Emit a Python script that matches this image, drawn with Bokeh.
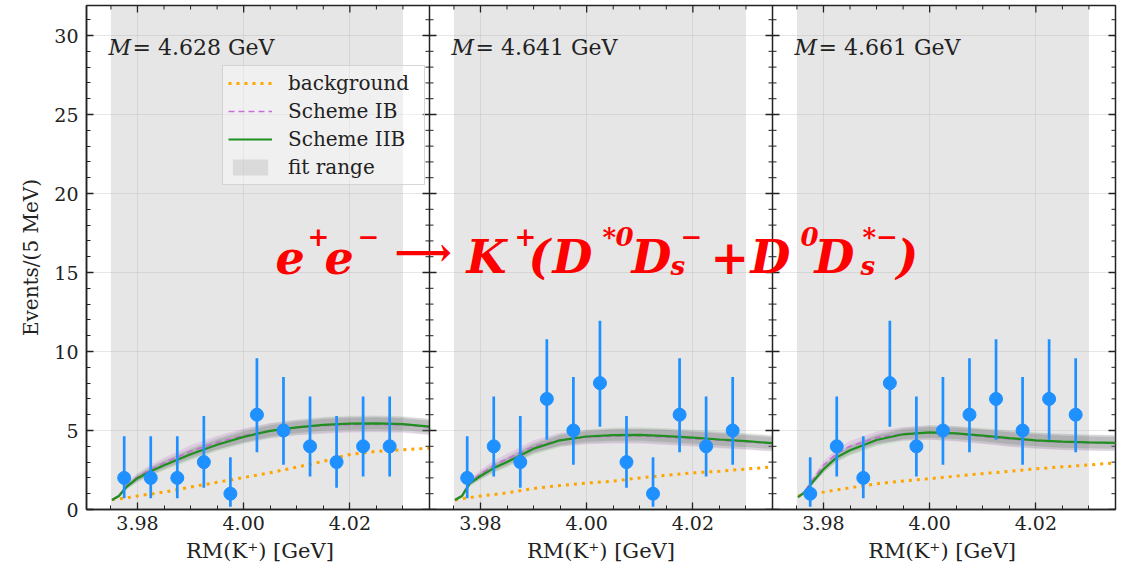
import math
from bokeh.plotting import figure
from bokeh.models import (Range1d, FixedTicker, CustomJSTickFormatter,
                          Span, Label, Legend, LegendItem)
from bokeh.embed import file_html
from bokeh.resources import INLINE

# ---------------- data ----------------
MASSES = ["4.628", "4.641", "4.661"]
BIN_X = [3.9775, 3.9825, 3.9875, 3.9925, 3.9975, 4.0025, 4.0075, 4.0125, 4.0175, 4.0225, 4.0275]
COUNTS_1 = [2, 2, 2, 3, 1, 6, 5, 4, 3, 4, 4]
COUNTS_2 = [2, 4, 3, 7, 5, 8, 3, 1, 6, 4, 5]
COUNTS_3 = [1, 4, 2, 8, 4, 5, 6, 7, 5, 7, 6]
POIS_LO = {1: 0.83, 2: 1.29, 3: 1.63, 4: 1.91, 5: 2.16, 6: 2.38, 7: 2.58, 8: 2.77}
POIS_HI = {1: 2.30, 2: 2.64, 3: 2.92, 4: 3.16, 5: 3.38, 6: 3.58, 7: 3.77, 8: 3.94}

CURVE_X = [3.9752, 3.9765, 3.978, 3.98, 3.9825, 3.985, 3.99, 3.995, 4.0, 4.005,
           4.01, 4.015, 4.02, 4.025, 4.03, 4.035]
IIB_1 = [0.60, 0.85, 1.45, 1.98, 2.42, 2.80, 3.50, 4.10, 4.60, 4.98, 5.20, 5.36, 5.43, 5.45, 5.40, 5.25]
IB_1 = [0.60, 0.88, 1.52, 2.05, 2.55, 2.95, 3.68, 4.25, 4.68, 5.00, 5.18, 5.30, 5.37, 5.39, 5.35, 5.22]
BKG_1 = [0.62, 0.67, 0.74, 0.86, 0.98, 1.10, 1.42, 1.72, 2.02, 2.33, 2.68, 3.05, 3.48, 3.68, 3.78, 3.88]
IIB_2 = [0.60, 0.85, 1.65, 2.12, 2.62, 3.00, 3.85, 4.38, 4.62, 4.71, 4.72, 4.65, 4.55, 4.43, 4.33, 4.20]
IB_2 = [0.60, 0.88, 1.75, 2.25, 2.80, 3.20, 4.00, 4.42, 4.58, 4.64, 4.65, 4.58, 4.48, 4.38, 4.28, 4.17]
BKG_2 = [0.60, 0.68, 0.76, 0.85, 0.95, 1.05, 1.33, 1.52, 1.67, 1.80, 2.00, 2.16, 2.32, 2.42, 2.56, 2.69]
IIB_3 = [0.78, 1.10, 1.75, 2.55, 3.30, 3.75, 4.40, 4.76, 4.88, 4.82, 4.68, 4.52, 4.38, 4.29, 4.25, 4.22]
IB_3 = [0.78, 1.15, 1.90, 2.80, 3.55, 4.00, 4.55, 4.80, 4.86, 4.78, 4.62, 4.47, 4.34, 4.26, 4.22, 4.20]
BKG_3 = [0.85, 0.92, 1.00, 1.10, 1.24, 1.37, 1.63, 1.80, 1.95, 2.11, 2.27, 2.42, 2.58, 2.70, 2.82, 2.95]
BAND_HW = [0.05, 0.10, 0.18, 0.25, 0.30, 0.33, 0.38, 0.42, 0.45, 0.47, 0.48, 0.50, 0.50, 0.50, 0.50, 0.50]

FIT_LO, FIT_HI = 3.975, 4.030
X_LO, X_HI = 3.9704, 4.0350
Y_MAX = 31.9
X_MAJOR = [3.98, 4.00, 4.02]
X_MINOR = [3.975, 3.985, 3.99, 3.995, 4.005, 4.01, 4.015, 4.025, 4.03]
Y_MAJOR = [0, 5, 10, 15, 20, 25, 30]
Y_MINOR = list(range(0, 32))
X_LABEL = "RM(K\u207a) [GeV]"

PANELS = [(COUNTS_1, IIB_1, IB_1, BKG_1), (COUNTS_2, IIB_2, IB_2, BKG_2), (COUNTS_3, IIB_3, IB_3, BKG_3)]

# red formula e+e- -> K+(D*0 Ds- + D0 Ds*-): (text, kind)  b = base, p = superscript, s = subscript, a = arrow
FORMULA = [("e", "b"), ("+", "p"), ("e", "b"), ("\u2212", "p"), ("\u27f6", "a"), ("K", "b"), ("+", "p"),
           ("(", "b"), ("D", "b"), ("*", "p"), ("0", "p"), ("D", "b"), ("s", "s"), ("\u2212", "p"),
           ("+", "b"), ("D", "b"), ("0", "p"), ("D", "b"), ("s", "s"), ("*\u2212", "p"), (")", "b")]
FORMULA_X = [189, 221, 238, 271, 308, 380, 428, 442, 466, 516, 529, 545, 584, 594,
             624, 664, 714, 728, 774, 776, 810]

BLUE = "#1e90ff"
GREEN = "#1f8f1f"
PURPLE = "#c86ed8"
ORANGE = "#ffa500"
DARK = "#222222"
SERIF = "DejaVu Serif"

W = X_HI - X_LO
NP = len(PANELS)


def to_panel(i, v):
    return i + (v - X_LO) / W


p = figure(width=1127, height=567, x_range=Range1d(0, NP), y_range=Range1d(0, Y_MAX),
           output_backend="svg", toolbar_location=None,
           min_border_left=86, min_border_right=12, min_border_top=5, min_border_bottom=58)
p.extra_x_ranges = {f"p{i}": Range1d(X_LO - i * W, X_LO + (NP - i) * W) for i in range(NP)}
p.outline_line_color = DARK
p.outline_line_width = 1.5
p.background_fill_color = "white"

xt_major = [to_panel(i, t) for i in range(NP) for t in X_MAJOR]
xt_minor = [to_panel(i, t) for i in range(NP) for t in X_MINOR]
xt = FixedTicker(ticks=xt_major, minor_ticks=xt_minor)
yt = FixedTicker(ticks=Y_MAJOR, minor_ticks=Y_MINOR)
fmt = CustomJSTickFormatter(args=dict(lo=X_LO, w=W),
                            code="const i = Math.floor(tick); return (lo + (tick - i) * w).toFixed(2);")


def style_axis(ax):
    ax.major_tick_in = 7
    ax.major_tick_out = 0
    ax.minor_tick_in = 4
    ax.minor_tick_out = 0
    ax.axis_line_color = DARK
    ax.axis_line_width = 1.5
    ax.major_tick_line_color = DARK
    ax.minor_tick_line_color = DARK
    ax.major_tick_line_width = 1.3
    ax.minor_tick_line_width = 1.0
    ax.major_label_text_font = SERIF
    ax.major_label_text_font_size = "19px"
    ax.major_label_text_color = "#222222"
    ax.axis_label_text_font = SERIF
    ax.axis_label_text_font_style = "normal"
    ax.axis_label_text_color = "#222222"


xa = p.xaxis[0]
xa.ticker = xt
xa.formatter = fmt
style_axis(xa)
xa.major_label_standoff = 6
# one label under each panel (three copies spaced one panel width apart)
GAP = "\u2003" * 9 + "\u2009"
xa.axis_label = X_LABEL + GAP + X_LABEL + GAP + X_LABEL
xa.axis_label_text_font_size = "21px"
xa.axis_label_standoff = 6

ya = p.yaxis[0]
ya.ticker = yt
style_axis(ya)
ya.major_label_standoff = 8
ya.axis_label = "Events/(5 MeV)"
ya.axis_label_text_font_size = "20px"
ya.axis_label_standoff = 8

p.xgrid.grid_line_color = "#b0b0b0"
p.xgrid.grid_line_alpha = 0.3
p.ygrid.grid_line_color = "#b0b0b0"
p.ygrid.grid_line_alpha = 0.3

# inward ticks on top edge, right edge and the inner panel separators (markers centred on the edge;
# the part outside the frame is clipped away)
p.scatter(x=xt_major, y=[Y_MAX] * len(xt_major), marker="dash", angle=math.pi / 2, size=14,
          line_color=DARK, line_width=1.3)
p.scatter(x=xt_minor, y=[Y_MAX] * len(xt_minor), marker="dash", angle=math.pi / 2, size=8,
          line_color=DARK, line_width=1.0)
for i in range(1, NP + 1):
    if i < NP:
        p.add_layout(Span(location=i, dimension="height", line_color=DARK, line_width=1.5))
    p.scatter(x=[i] * len(Y_MAJOR), y=Y_MAJOR, marker="dash", size=14, line_color=DARK, line_width=1.3)
    p.scatter(x=[i] * len(Y_MINOR), y=Y_MINOR, marker="dash", size=8, line_color=DARK, line_width=1.0)

legend_renderers = None
for i, (counts, iib, ib, bkg) in enumerate(PANELS):
    rn = f"p{i}"
    r_fit = p.quad(left=[FIT_LO], right=[FIT_HI], bottom=[0], top=[Y_MAX], fill_color="grey",
                   fill_alpha=0.2, line_color=None, x_range_name=rn, level="underlay")
    p.varea(x=CURVE_X, y1=[v - h for v, h in zip(ib, BAND_HW)], y2=[v + h for v, h in zip(ib, BAND_HW)],
            fill_color=PURPLE, fill_alpha=0.22, x_range_name=rn)
    p.varea(x=CURVE_X, y1=[v - h for v, h in zip(iib, BAND_HW)], y2=[v + h for v, h in zip(iib, BAND_HW)],
            fill_color="#3a9a3a", fill_alpha=0.15, x_range_name=rn)
    p.varea(x=CURVE_X, y1=[v - 0.75 * h for v, h in zip(iib, BAND_HW)],
            y2=[v + 0.75 * h for v, h in zip(iib, BAND_HW)],
            fill_color="#556655", fill_alpha=0.2, x_range_name=rn)
    r_bkg = p.line(CURVE_X, bkg, line_color=ORANGE, line_width=3, line_dash="3 5", x_range_name=rn)
    r_ib = p.line(CURVE_X, ib, line_color=PURPLE, line_width=1.6, line_dash="6 4", x_range_name=rn)
    r_iib = p.line(CURVE_X, iib, line_color=GREEN, line_width=2.2, x_range_name=rn)
    lo = [c - POIS_LO[c] for c in counts]
    hi = [c + POIS_HI[c] for c in counts]
    p.segment(x0=BIN_X, y0=lo, x1=BIN_X, y1=hi, line_color=BLUE, line_width=2.7, x_range_name=rn)
    p.scatter(BIN_X, counts, size=13, color=BLUE, x_range_name=rn)
    if legend_renderers is None:
        legend_renderers = (r_bkg, r_ib, r_iib, r_fit)

    p.add_layout(Label(x=X_LO, x_range_name=rn, x_offset=22, y=462, y_units="screen",
                       text="M", text_font=SERIF, text_font_style="italic", text_font_size="22px",
                       text_baseline="middle", text_color="#222222"))
    p.add_layout(Label(x=X_LO, x_range_name=rn, x_offset=46, y=462, y_units="screen",
                       text="= " + MASSES[i] + " GeV", text_font=SERIF, text_font_size="22px",
                       text_baseline="middle", text_color="#222222"))

r_bkg, r_ib, r_iib, r_fit = legend_renderers
legend = Legend(items=[LegendItem(label="background", renderers=[r_bkg]),
                       LegendItem(label="Scheme IB", renderers=[r_ib]),
                       LegendItem(label="Scheme IIB", renderers=[r_iib]),
                       LegendItem(label="fit range", renderers=[r_fit])],
                location=(136, 324))
legend.label_text_font = SERIF
legend.label_text_font_size = "20px"
legend.label_text_color = "#222222"
legend.glyph_width = 44
legend.glyph_height = 20
legend.label_height = 20
legend.label_width = 131
legend.spacing = 4
legend.padding = 5
legend.margin = 0
legend.label_standoff = 16
legend.background_fill_color = "white"
legend.background_fill_alpha = 0.4
legend.border_line_color = "#cccccc"
legend.border_line_alpha = 0.8
p.add_layout(legend)

KIND_Y = {"b": 253, "a": 258, "p": 273, "s": 244}
KIND_SIZE = {"b": "46px", "a": "40px", "p": "26px", "s": "26px"}
for (txt, kind), fx in zip(FORMULA, FORMULA_X):
    p.add_layout(Label(x=fx, y=KIND_Y[kind], x_units="screen", y_units="screen", text=txt,
                       text_font=SERIF, text_font_style="bold" if kind == "a" else "bold italic",
                       text_font_size=KIND_SIZE[kind], text_color="#ff0000",
                       text_align="left", text_baseline="alphabetic" if kind != "a" else "middle"))

open("out.html", "w").write(file_html(p, INLINE))
